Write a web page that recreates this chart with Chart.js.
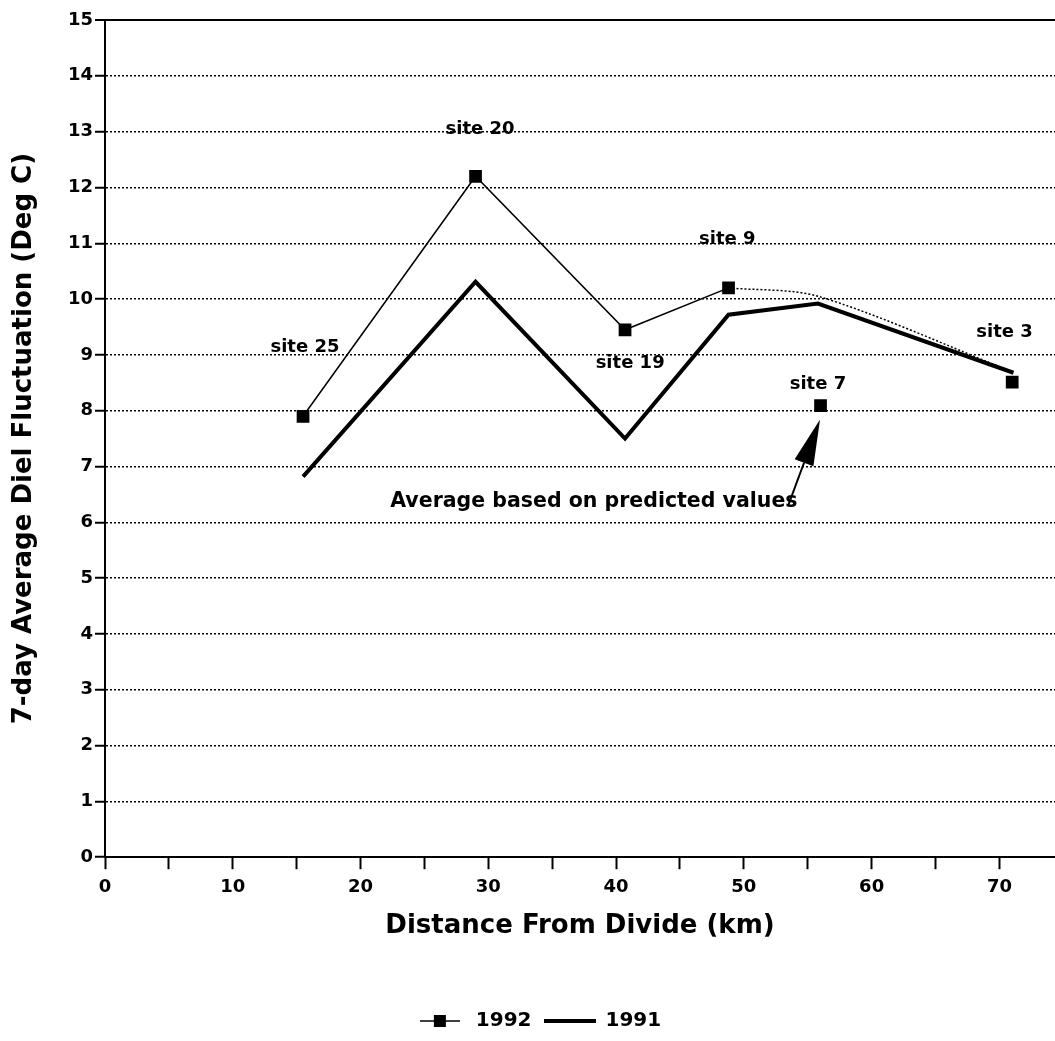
<!DOCTYPE html>
<html>
<head>
<meta charset="utf-8">
<script src="https://cdn.jsdelivr.net/npm/chart.js@4.4.1/dist/chart.umd.min.js"></script>
<style>
  html, body { margin: 0; padding: 0; background: #fff; overflow: hidden; }
  #dielChart { display: block; }
</style>
</head>
<body>
<canvas id="dielChart" width="1055" height="1041"></canvas>
<script>
// 1992 measured sites joined by a line
const distance1992 = [15.5, 29, 40.7, 48.8];
const fluct1992 = [7.9, 12.2, 9.45, 10.2];

// 1992 average based on predicted values (dotted)
const distancePredicted = [48.8, 55.8, 71];
const fluctPredicted = [10.2, 10.05, 8.7];

// 1992 sites shown as markers only
const distanceSites = [56, 71];
const fluctSites = [8.09, 8.51];

// 1991
const distance1991 = [15.5, 29, 40.7, 48.8, 55.8, 71.1];
const fluct1991 = [6.82, 10.31, 7.5, 9.72, 9.92, 8.68];

const siteNames = ['site 25', 'site 20', 'site 19', 'site 9', 'site 7', 'site 3'];
const noteText = 'Average based on predicted values';

const FONT = "'DejaVu Sans', 'Liberation Sans', sans-serif";
const toPoints = (xs, ys) => xs.map((x, i) => ({ x: x, y: ys[i] }));

function makeIcon(w, h, draw) {
  const c = document.createElement('canvas');
  c.width = w;
  c.height = h;
  draw(c.getContext('2d'));
  return c;
}

const legendIcons = {
  '1992': makeIcon(40, 14, (g) => {
    g.strokeStyle = '#000';
    g.lineWidth = 1.5;
    g.beginPath(); g.moveTo(0, 7); g.lineTo(40, 7); g.stroke();
    g.fillStyle = '#000';
    g.fillRect(14, 1, 12, 12);
  }),
  '1991': makeIcon(52, 6, (g) => {
    g.strokeStyle = '#000';
    g.lineWidth = 4;
    g.beginPath(); g.moveTo(0, 3); g.lineTo(52, 3); g.stroke();
  })
};

const annotationPlugin = {
  id: 'siteNotes',
  afterDatasetsDraw(chart) {
    const ctx = chart.ctx;
    const xs = chart.scales.x;
    const ys = chart.scales.y;
    const spots = [
      [15.65, 9.13], [29.35, 13.05], [41.1, 8.84],
      [48.7, 11.07], [55.8, 8.48], [70.4, 9.41]
    ];
    ctx.save();
    ctx.fillStyle = '#000';
    ctx.textAlign = 'center';
    ctx.textBaseline = 'middle';
    ctx.font = `bold 18px ${FONT}`;
    siteNames.forEach((name, i) => {
      ctx.fillText(name, xs.getPixelForValue(spots[i][0]), ys.getPixelForValue(spots[i][1]));
    });
    ctx.font = `bold 20.5px ${FONT}`;
    ctx.fillText(noteText, xs.getPixelForValue(38.26), ys.getPixelForValue(6.375));

    // arrow pointing at site 7
    const tx = xs.getPixelForValue(53.45), ty = ys.getPixelForValue(6.29);
    const hx = xs.getPixelForValue(55.96), hy = ys.getPixelForValue(7.84);
    const ang = Math.atan2(hy - ty, hx - tx);
    const headLen = 46, headHalf = 10;
    const bx = hx - Math.cos(ang) * headLen, by = hy - Math.sin(ang) * headLen;
    ctx.strokeStyle = '#000';
    ctx.lineWidth = 2;
    ctx.beginPath(); ctx.moveTo(tx, ty); ctx.lineTo(bx, by); ctx.stroke();
    ctx.beginPath();
    ctx.moveTo(hx, hy);
    ctx.lineTo(bx + Math.sin(ang) * headHalf, by - Math.cos(ang) * headHalf);
    ctx.lineTo(bx - Math.sin(ang) * headHalf, by + Math.cos(ang) * headHalf);
    ctx.closePath();
    ctx.fill();
    ctx.restore();
  }
};

new Chart(document.getElementById('dielChart'), {
  type: 'line',
  data: {
    datasets: [
      {
        label: '1992',
        data: toPoints(distance1992, fluct1992),
        borderColor: '#000',
        backgroundColor: '#000',
        borderWidth: 1.5,
        pointStyle: 'rect',
        pointRadius: 9,
        pointBorderWidth: 0,
        tension: 0
      },
      {
        label: '1992 predicted',
        data: toPoints(distancePredicted, fluctPredicted),
        borderColor: '#000',
        borderWidth: 1.5,
        borderDash: [2, 2],
        pointRadius: 0,
        tension: 0.3
      },
      {
        label: '1992 sites',
        data: toPoints(distanceSites, fluctSites),
        showLine: false,
        backgroundColor: '#000',
        borderColor: '#000',
        pointStyle: 'rect',
        pointRadius: 9,
        pointBorderWidth: 0
      },
      {
        label: '1991',
        data: toPoints(distance1991, fluct1991),
        borderColor: '#000',
        borderWidth: 4,
        pointRadius: 0,
        tension: 0
      }
    ]
  },
  options: {
    responsive: false,
    animation: false,
    layout: {
      autoPadding: false,
      padding: { top: 20, right: 0, left: 20, bottom: 0 }
    },
    plugins: {
      tooltip: { enabled: false },
      legend: {
        position: 'bottom',
        labels: {
          usePointStyle: true,
          pointStyleWidth: 52,
          padding: 2,
          color: '#000',
          font: { family: FONT, size: 20, weight: 'bold' },
          generateLabels: (chart) => Chart.defaults.plugins.legend.labels.generateLabels(chart)
            .filter((l) => l.datasetIndex === 0 || l.datasetIndex === 3)
            .map((l) => ({
              ...l,
              pointStyle: legendIcons[l.text],
              text: l.datasetIndex === 0 ? l.text + '\u2002' : l.text
            }))
        }
      }
    },
    scales: {
      x: {
        type: 'linear',
        min: 0,
        max: 74.35,
        afterBuildTicks: (scale) => {
          scale.ticks = scale.ticks.filter((t) => t.value % 5 === 0);
        },
        afterFit: (scale) => {
          scale.paddingRight = 0;
          scale.paddingLeft = 0;
        },
        ticks: {
          stepSize: 5,
          includeBounds: false,
          autoSkip: false,
          maxRotation: 0,
          padding: 7,
          color: '#000',
          font: { family: FONT, size: 18, weight: 'bold' },
          callback: (v) => (v % 10 === 0 ? v : '')
        },
        grid: {
          drawOnChartArea: false,
          drawTicks: true,
          tickLength: 12,
          tickColor: '#000',
          tickWidth: 2
        },
        border: { color: '#000', width: 2 },
        title: {
          display: true,
          text: 'Distance From Divide (km)',
          color: '#000',
          font: { family: FONT, size: 26, weight: 'bold' },
          padding: { top: 6, bottom: 67 }
        }
      },
      y: {
        type: 'linear',
        min: 0,
        max: 15,
        afterFit: (scale) => { scale.width = 85; },
        ticks: {
          stepSize: 1,
          padding: 2,
          color: '#000',
          font: { family: FONT, size: 18, weight: 'bold' }
        },
        grid: {
          color: '#000',
          lineWidth: (c) => (c.tick && c.tick.value === 15 ? 2 : 1.5),
          tickLength: 10,
          tickColor: '#000',
          tickWidth: 2,
          tickBorderDash: []
        },
        border: {
          color: '#000',
          width: 2,
          dash: (c) => (c.type === 'tick' && c.tick.value !== 15 ? [2, 2] : [])
        },
        title: {
          display: true,
          text: '7-day Average Diel Fluctuation (Deg C)',
          color: '#000',
          font: { family: FONT, size: 26, weight: 'bold' },
          padding: { top: -11, bottom: 4 }
        }
      }
    }
  },
  plugins: [annotationPlugin]
});
</script>
</body>
</html>
